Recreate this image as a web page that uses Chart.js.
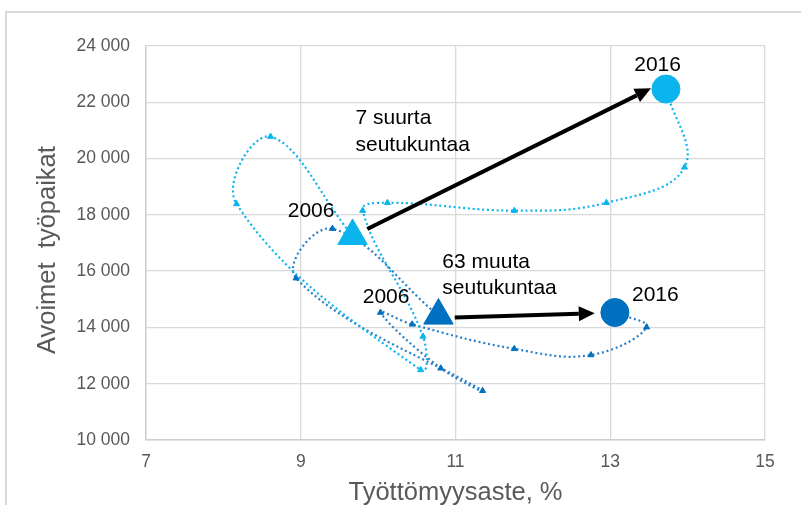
<!DOCTYPE html>
<html>
<head>
<meta charset="utf-8">
<script src="https://cdn.jsdelivr.net/npm/chart.js@4"></script>
<style>
  html, body { margin: 0; padding: 0; background: #fff; }
  #wrap { width: 801px; height: 505px; }
</style>
</head>
<body>
<div id="wrap"><canvas id="chart" width="801" height="505"></canvas></div>
<script>
// years shown on the path, 2006..2016
const years = ["2006", "2007", "2008", "2009", "2010", "2011", "2012", "2013", "2014", "2015", "2016"];

// 7 suurta seutukuntaa
const bigUnemp = [9.67, 8.61, 8.17, 10.55, 10.58, 9.80, 10.12, 11.76, 12.95, 13.96, 13.72];
const bigVacancies = [17250, 20780, 18390, 12490, 13680, 18150, 18430, 18150, 18430, 19690, 22470];

// 63 muuta seutukuntaa
const otherUnemp = [10.78, 9.41, 8.94, 11.35, 10.81, 10.03, 10.44, 11.76, 12.75, 13.47, 13.06];
const otherVacancies = [14420, 17510, 15750, 11750, 12550, 14530, 14110, 13240, 13020, 14010, 14530];

const xTicks = [7, 9, 11, 13, 15];
const yTicks = [10000, 12000, 14000, 16000, 18000, 20000, 22000, 24000];

// text + arrows drawn on top (data coordinates)
const notes = [
  { text: "7 suurta", x: 9.707, y: 21440, align: "left" },
  { text: "seutukuntaa", x: 9.707, y: 20480, align: "left" },
  { text: "63 muuta", x: 10.83, y: 16330, align: "left" },
  { text: "seutukuntaa", x: 10.83, y: 15400, align: "left" },
  { text: "2006", x: 9.134, y: 18140, align: "center" },
  { text: "2006", x: 10.103, y: 15070, align: "center" },
  { text: "2016", x: 13.612, y: 23300, align: "center" },
  { text: "2016", x: 13.583, y: 15140, align: "center" },
];
const arrows = [
  { from: [9.86, 17500], to: [13.527, 22497] },
  { from: [10.99, 14350], to: [12.80, 14505] },
];

const LIGHT = "#0cb4ee";
const DARK = "#0070c0";
const DARK_LINE = "#2a80c8";

function toPoints(xs, ys) {
  return xs.map((x, i) => ({ x: x, y: ys[i] }));
}

const last = years.length - 1;
const markerStyle = (ctx) => ctx.dataIndex === last ? "circle" : "triangle";
const markerRadius = (ctx) => {
  if (ctx.dataIndex === 0) return 17;
  if (ctx.dataIndex === last) return 14;
  return 3.5;
};

function seriesConfig(label, xs, ys, color, lineColor) {
  return {
    label: label,
    data: toPoints(xs, ys),
    showLine: true,
    tension: 0.4,
    borderColor: lineColor,
    borderWidth: 2.2,
    borderDash: [2, 2.8],
    backgroundColor: color,
    pointBackgroundColor: color,
    pointBorderColor: color,
    pointBorderWidth: 1,
    pointStyle: markerStyle,
    pointRadius: markerRadius,
  };
}

const frame = {
  id: "frame",
  beforeDraw(chart) {
    const ctx = chart.ctx;
    ctx.save();
    ctx.fillStyle = "#fff";
    ctx.fillRect(0, 0, chart.width, chart.height);
    ctx.strokeStyle = "#d9d9d9";
    ctx.lineWidth = 2;
    ctx.strokeRect(6, 12, chart.width + 20, chart.height + 20);
    ctx.restore();
  },
};

const overlay = {
  id: "overlay",
  afterDatasetsDraw(chart) {
    const ctx = chart.ctx;
    const xs = chart.scales.x;
    const ys = chart.scales.y;
    ctx.save();

    // arrows
    ctx.strokeStyle = "#000";
    ctx.fillStyle = "#000";
    ctx.lineWidth = 4;
    arrows.forEach((a) => {
      const x1 = xs.getPixelForValue(a.from[0]);
      const y1 = ys.getPixelForValue(a.from[1]);
      const x2 = xs.getPixelForValue(a.to[0]);
      const y2 = ys.getPixelForValue(a.to[1]);
      const ang = Math.atan2(y2 - y1, x2 - x1);
      const headLen = 16;
      const headW = 7.5;
      const bx = x2 - Math.cos(ang) * headLen;
      const by = y2 - Math.sin(ang) * headLen;
      ctx.beginPath();
      ctx.moveTo(x1, y1);
      ctx.lineTo(bx, by);
      ctx.stroke();
      ctx.beginPath();
      ctx.moveTo(x2, y2);
      ctx.lineTo(bx + Math.sin(ang) * headW, by - Math.cos(ang) * headW);
      ctx.lineTo(bx - Math.sin(ang) * headW, by + Math.cos(ang) * headW);
      ctx.closePath();
      ctx.fill();
    });

    // texts
    ctx.font = "21px 'Liberation Sans', Arial, sans-serif";
    ctx.textBaseline = "middle";
    notes.forEach((n) => {
      ctx.textAlign = n.align;
      ctx.fillText(n.text, xs.getPixelForValue(n.x), ys.getPixelForValue(n.y));
    });
    ctx.restore();
  },
};

const fmt = (v) => String(v).replace(/\B(?=(\d{3})+(?!\d))/g, " ");

new Chart(document.getElementById("chart"), {
  type: "scatter",
  data: {
    datasets: [
      seriesConfig("7 suurta seutukuntaa", bigUnemp, bigVacancies, LIGHT, LIGHT),
      seriesConfig("63 muuta seutukuntaa", otherUnemp, otherVacancies, DARK, DARK_LINE),
    ],
  },
  options: {
    responsive: false,
    animation: false,
    layout: { padding: { top: 46, right: 36, left: 0, bottom: 0 } },
    plugins: { legend: { display: false }, tooltip: { enabled: false } },
    scales: {
      x: {
        type: "linear",
        min: 7,
        max: 15,
        afterBuildTicks: (scale) => { scale.ticks = xTicks.map((v) => ({ value: v })); },
        afterFit: (scale) => { scale.height = 65; },
        grid: { color: "#d9d9d9", lineWidth: 1.3, drawTicks: false },
        border: { color: "#cfcfcf", width: 1.5 },
        ticks: {
          padding: 12,
          color: "#595959",
          font: { family: "'Liberation Sans', Arial, sans-serif", size: 17.5 },
        },
        title: {
          display: true,
          text: "Työttömyysaste, %",
          color: "#595959",
          padding: { top: 0, bottom: 0 },
          font: { family: "'Liberation Sans', Arial, sans-serif", size: 25.5, lineHeight: 0.92 },
        },
      },
      y: {
        type: "linear",
        min: 10000,
        max: 24000,
        afterBuildTicks: (scale) => { scale.ticks = yTicks.map((v) => ({ value: v })); },
        afterFit: (scale) => { scale.width = 146; },
        grid: { color: "#d9d9d9", lineWidth: 1.3, drawTicks: false },
        border: { color: "#cfcfcf", width: 1.5 },
        ticks: {
          padding: 16,
          color: "#595959",
          font: { family: "'Liberation Sans', Arial, sans-serif", size: 17.5 },
          callback: (v) => fmt(v),
        },
        title: {
          display: true,
          text: "Avoimet  työpaikat  ",
          color: "#595959",
          padding: { top: 35, bottom: 0 },
          font: { family: "'Liberation Sans', Arial, sans-serif", size: 25.5, lineHeight: 1 },
        },
      },
    },
  },
  plugins: [frame, overlay],
});
</script>
</body>
</html>
